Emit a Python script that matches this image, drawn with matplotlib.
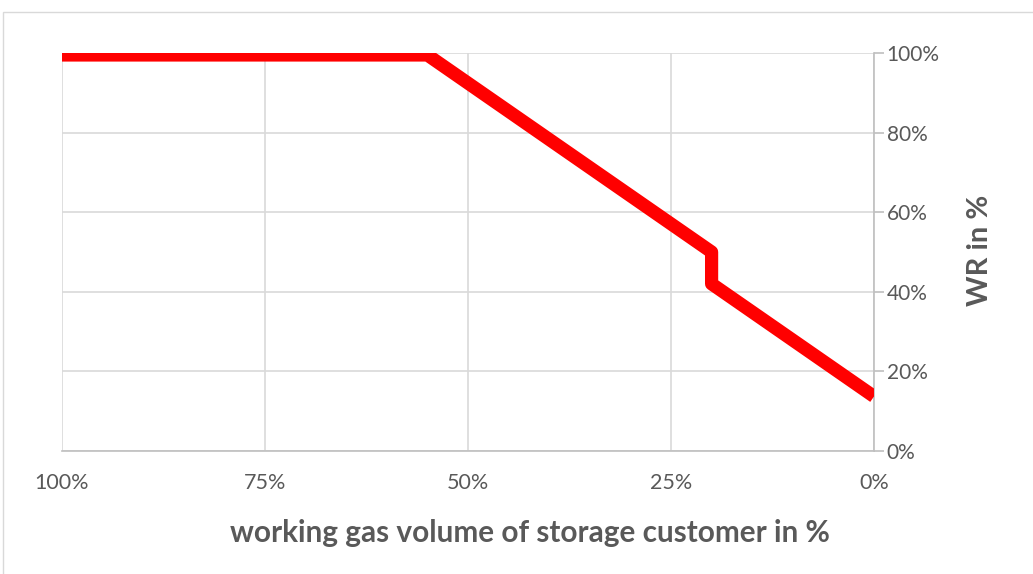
import matplotlib
matplotlib.use("Agg")
import matplotlib.pyplot as plt
from matplotlib.patches import Rectangle

# Data
gas_volume = [100, 55, 20, 20, 0]          # working gas volume (%), x
wr_values = [99.5, 99.5, 50, 42, 13.7]     # WR (%), y
x_ticks = [100, 75, 50, 25, 0]
x_tick_labels = ["100%", "75%", "50%", "25%", "0%"]
y_ticks = [0, 20, 40, 60, 80, 100]
y_tick_labels = ["0%", "20%", "40%", "60%", "80%", "100%"]

plt.rcParams['font.family'] = ['Lato', 'DejaVu Sans']

fig = plt.figure(figsize=(10.33, 5.74), dpi=100)
W, H = 1033, 574
ax = fig.add_axes([62 / W, 1 - 451 / H, (874 - 62) / W, (451 - 53) / H])

text_color = "#595959"
grid_color = "#d9d9d9"
axis_color = "#bfbfbf"

ax.plot(gas_volume, wr_values, color="#ff0000", linewidth=9.5,
        solid_joinstyle="round", solid_capstyle="butt", zorder=3)

ax.set_xlim(100, 0)
ax.set_ylim(0, 100)
ax.set_xticks(x_ticks)
ax.set_xticklabels(x_tick_labels)
ax.set_yticks(y_ticks)
ax.set_yticklabels(y_tick_labels)

ax.yaxis.tick_right()
ax.yaxis.set_label_position("right")
ax.grid(True, color=grid_color, linewidth=1.2, zorder=0)

for s in ["top", "left"]:
    ax.spines[s].set_visible(False)
ax.spines["bottom"].set_color(axis_color)
ax.spines["right"].set_color(axis_color)
ax.spines["bottom"].set_linewidth(1.2)
ax.spines["right"].set_linewidth(1.2)

ax.tick_params(axis="x", length=0, pad=16, labelsize=15.5, labelcolor=text_color)
ax.tick_params(axis="y", length=7, width=1.2, color=axis_color, pad=2,
               labelsize=15, labelcolor=text_color)

fig.text(530 / W, 1 - 533 / H, "working gas volume of storage customer in %",
         fontsize=21.4, fontweight="bold", color=text_color,
         ha="center", va="center")
ax.set_ylabel("WR in %", fontsize=21, fontweight="bold", color=text_color,
              labelpad=20, rotation=90)
ax.yaxis.set_label_coords((967 - 62) / 812, (451 - 250) / 398)

fig.patches.append(Rectangle((3 / W, -0.05), 1.05, 1.05 - 12 / H,
                             transform=fig.transFigure, fill=False,
                             edgecolor="#d9d9d9", linewidth=1.0))

fig.savefig("out.png", dpi=100)
